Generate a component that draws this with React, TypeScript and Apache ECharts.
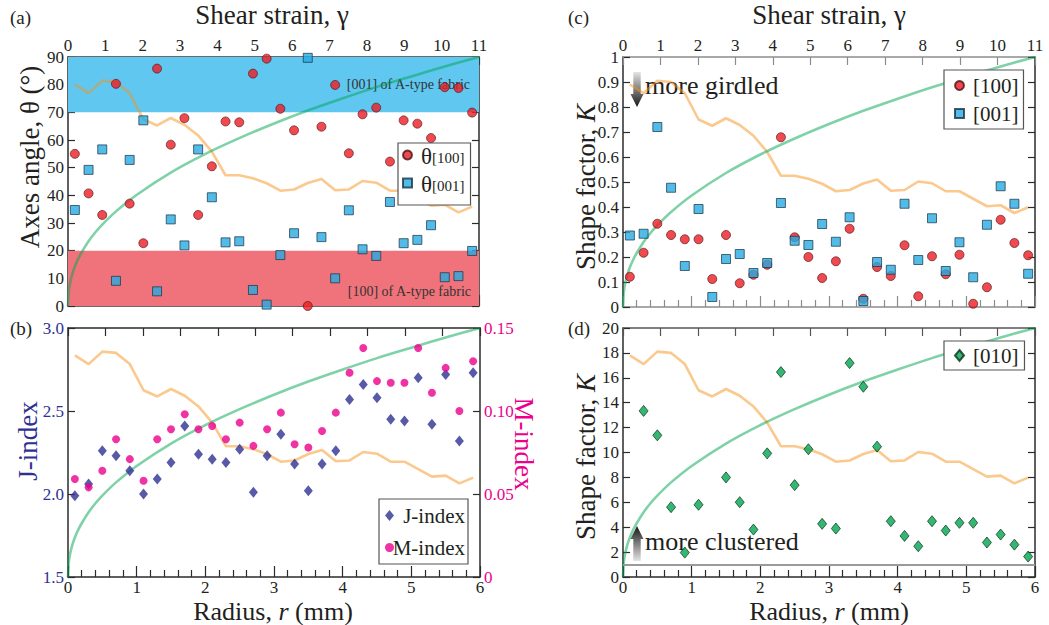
import React, { useEffect, useRef } from 'react';
import * as echarts from 'echarts';

const SERIF = "'Liberation Serif', serif";
const INK = '#231F20';
const NAVY = '#2E3192';
const PINK = '#EC008C';

// Sample positions along the radius (mm)
const radius = [0.1, 0.3, 0.5, 0.7, 0.9, 1.1, 1.3, 1.5, 1.7, 1.9, 2.1, 2.3, 2.5, 2.7, 2.9,
  3.1, 3.3, 3.5, 3.7, 3.9, 4.1, 4.3, 4.5, 4.7, 4.9, 5.1, 5.3, 5.5, 5.7, 5.9];

// (a) axes angles (degrees)
const theta100 = [55.0, 40.7, 32.9, 80.3, 37.0, 22.7, 85.8, 58.3, 67.9, 32.9, 50.5, 66.7, 66.4, 84.0, 89.4,
  71.3, 63.5, 0.0, 64.8, 79.9, 55.2, 69.3, 71.7, 52.2, 67.1, 65.9, 60.7, 79.1, 78.8, 69.9];
const theta001 = [34.7, 49.2, 56.6, 9.1, 52.8, 67.1, 5.3, 31.3, 21.9, 56.6, 39.3, 23.0, 23.4, 5.8, 0.5,
  18.4, 26.3, 89.7, 24.9, 10.0, 34.6, 20.5, 18.1, 37.6, 22.7, 23.9, 29.2, 10.4, 10.8, 19.9];

// (b) fabric strength indices
const jIndex = [1.99, 2.06, 2.26, 2.23, 2.14, 2.00, 2.09, 2.19, 2.41, 2.24, 2.21, 2.19, 2.27, 2.01, 2.23,
  2.36, 2.18, 2.02, 2.18, 2.26, 2.57, 2.66, 2.58, 2.45, 2.44, 2.70, 2.42, 2.72, 2.32, 2.73];
const mIndex = [0.059, 0.054, 0.064, 0.083, 0.071, 0.058, 0.083, 0.089, 0.098, 0.089, 0.091, 0.083, 0.093, 0.079, 0.089,
  0.099, 0.080, 0.078, 0.088, 0.099, 0.123, 0.138, 0.118, 0.117, 0.117, 0.138, 0.111, 0.126, 0.100, 0.130];

// (c) shape factors of [100] and [001]
const k100 = [0.121, 0.217, 0.333, 0.288, 0.271, 0.271, 0.112, 0.288, 0.095, 0.129, 0.169, 0.679, 0.279, 0.200, 0.116,
  0.183, 0.313, 0.033, 0.160, 0.124, 0.247, 0.043, 0.203, 0.131, 0.209, 0.013, 0.079, 0.349, 0.256, 0.207];
const k001 = [0.286, 0.293, 0.720, 0.477, 0.164, 0.392, 0.040, 0.192, 0.212, 0.136, 0.176, 0.416, 0.265, 0.248, 0.332,
  0.261, 0.359, 0.024, 0.180, 0.149, 0.413, 0.188, 0.355, 0.144, 0.259, 0.119, 0.329, 0.483, 0.413, 0.133];

// (d) shape factor of [010]; null where no value was obtained
const k010 = [null, 13.34, 11.38, 5.61, 1.96, 5.80, null, 8.00, 6.01, 3.81, 9.93, 16.46, 7.38, 10.26, 4.27,
  3.89, 17.18, 15.28, 10.47, 4.48, 3.30, 2.47, 4.48, 3.73, 4.35, 4.35, 2.77, 3.41, 2.60, 1.64];

// Background profile shared by all panels (fraction of each panel's height)
const profile = [0.89, 0.855, 0.905, 0.90, 0.855, 0.75, 0.725, 0.755, 0.728, 0.685, 0.62, 0.525, 0.525, 0.513, 0.493,
  0.463, 0.468, 0.494, 0.51, 0.465, 0.468, 0.502, 0.495, 0.463, 0.463, 0.433, 0.403, 0.407, 0.376, 0.399];

// Shear strain along the radius (fraction of the 0-11 strain range)
const strainR = [0, 0.01, 0.03, 0.06, 0.1, 0.15, 0.2, 0.3, 0.4, 0.5, 0.7, 1.0, 1.5, 2.0, 2.5, 3.0, 3.5, 4.0, 4.5, 5.0, 5.5, 6.0];
const strainFrac = [0, 0.056, 0.092, 0.126, 0.159, 0.19, 0.216, 0.26, 0.296, 0.327, 0.38, 0.446, 0.536, 0.61, 0.674,
  0.732, 0.785, 0.833, 0.879, 0.921, 0.962, 1.0];

const gammaTicks = [0, 1, 2, 3, 4, 5, 6, 7, 8, 9, 10, 11];

const GRIDS = [
  { left: 68, top: 57, width: 411, height: 249 },
  { left: 68, top: 328, width: 412, height: 249 },
  { left: 623, top: 57, width: 412, height: 250 },
  { left: 623, top: 328, width: 412, height: 249 },
];

const label = (show: boolean, color = INK, extra: any = {}) => ({
  show, color, fontFamily: SERIF, fontSize: 17, ...extra,
});

function rAxis(grid: number, showLabels: boolean, lineColor: string) {
  return {
    type: 'value', gridIndex: grid, position: 'bottom', min: 0, max: 6, interval: 1,
    axisLine: { show: true, onZero: false, lineStyle: { color: lineColor, width: 1.5 } },
    axisTick: { show: true, inside: true, length: 11, lineStyle: { color: lineColor, width: 1.2 } },
    minorTick: { show: true, splitNumber: 5, length: 7, lineStyle: { color: lineColor, width: 1.2 } },
    axisLabel: label(showLabels, INK, { margin: 2 }),
    splitLine: { show: false }, minorSplitLine: { show: false },
  };
}

function gammaAxis(grid: number, showLabels: boolean, lineColor: string) {
  return {
    type: 'value', gridIndex: grid, position: 'top', min: gammaTicks[0], max: gammaTicks[gammaTicks.length - 1], interval: 1,
    axisLine: { show: true, onZero: false, lineStyle: { color: lineColor, width: 1.5 } },
    axisTick: { show: true, inside: true, length: 8, lineStyle: { color: lineColor, width: 1.2 } },
    axisLabel: label(showLabels, INK, { margin: 3 }),
    splitLine: { show: false },
  };
}

function valueAxis(grid: number, position: string, min: number, max: number, interval: number,
  showLabels: boolean, formatter?: (v: number) => string, color = INK) {
  return {
    type: 'value', gridIndex: grid, position, min, max, interval,
    axisLine: { show: true, onZero: false, lineStyle: { color: '#2b2b2b', width: 1.5 } },
    axisTick: { show: true, inside: true, length: 7, lineStyle: { color: '#2b2b2b', width: 1.2 } },
    axisLabel: label(showLabels, color, { margin: 4, formatter }),
    splitLine: { show: false },
  };
}

const normAxis = (grid: number) => ({ type: 'value', gridIndex: grid, show: false, min: 0, max: 1 });

const pairs = (ys: (number | null)[]) =>
  radius.map((r, i) => [r, ys[i]]).filter((p) => p[1] !== null);

function overlayLines(xAxisIndex: number, yAxisIndex: number) {
  return [
    {
      type: 'line', name: 'profile', xAxisIndex, yAxisIndex, z: 2, silent: true, symbol: 'none',
      data: pairs(profile),
      lineStyle: { color: '#F7941D', opacity: 0.5, width: 2.6 },
    },
    {
      type: 'line', name: 'strain', xAxisIndex, yAxisIndex, z: 2, silent: true, symbol: 'none', smooth: 0.3,
      data: strainR.map((r, i) => [r, strainFrac[i]]),
      lineStyle: { color: '#00A651', opacity: 0.5, width: 2.6 },
    },
  ];
}

const redDot = { color: '#ED1C24', borderColor: '#4a1414', borderWidth: 0.8 };
const blueSq = { color: '#27AAE1', borderColor: '#163246', borderWidth: 0.9 };
const greenDia = { color: '#00A651', borderColor: '#0d2f1b', borderWidth: 0.9 };

function buildOption(): any {
  const bandLabel = { show: true, color: '#333', fontFamily: SERIF, fontSize: 14 };
  const series: any[] = [
    // (a)
    {
      type: 'scatter', name: 'θ[100]', xAxisIndex: 0, yAxisIndex: 0, z: 3,
      symbol: 'circle', symbolSize: 9, itemStyle: redDot, data: pairs(theta100),
      markArea: {
        silent: true,
        data: [
          [{ name: '[001] of A-type fabric', yAxis: 70, itemStyle: { color: '#5FC7F0' },
             label: { ...bandLabel, position: 'insideRight', distance: 9 } }, { yAxis: 90 }],
          [{ name: '[100] of A-type fabric', yAxis: 0, itemStyle: { color: '#F0737B' },
             label: { ...bandLabel, position: 'insideBottomRight', distance: 8 } }, { yAxis: 20 }],
        ],
      },
    },
    {
      type: 'scatter', name: 'θ[001]', xAxisIndex: 0, yAxisIndex: 0, z: 3,
      symbol: 'rect', symbolSize: 9, itemStyle: blueSq, data: pairs(theta001),
    },
    ...overlayLines(0, 2),
    // (b)
    {
      type: 'scatter', name: 'J-index', xAxisIndex: 2, yAxisIndex: 3, z: 3,
      symbol: 'diamond', symbolSize: [9, 11], itemStyle: { color: NAVY }, data: pairs(jIndex),
    },
    {
      type: 'scatter', name: 'M-index', xAxisIndex: 2, yAxisIndex: 4, z: 3,
      symbol: 'circle', symbolSize: 8, itemStyle: { color: PINK }, data: pairs(mIndex),
    },
    ...overlayLines(2, 5),
    // (c)
    {
      type: 'scatter', name: '[100]', xAxisIndex: 4, yAxisIndex: 6, z: 3,
      symbol: 'circle', symbolSize: 9, itemStyle: redDot, data: pairs(k100),
    },
    {
      type: 'scatter', name: '[001]', xAxisIndex: 4, yAxisIndex: 6, z: 3,
      symbol: 'rect', symbolSize: 9, itemStyle: blueSq, data: pairs(k001),
    },
    ...overlayLines(4, 8),
    // (d)
    {
      type: 'scatter', name: '[010]', xAxisIndex: 6, yAxisIndex: 9, z: 3,
      symbol: 'diamond', symbolSize: [9, 11], itemStyle: greenDia, data: pairs(k010),
      markLine: {
        silent: true, symbol: 'none', label: { show: false },
        lineStyle: { color: '#9a9a9a', width: 2, type: 'solid' },
        data: [{ yAxis: 1 }],
      },
    },
    ...overlayLines(6, 11),
  ];

  const legendBase = {
    orient: 'vertical', borderColor: '#555', borderWidth: 1.2, backgroundColor: '#fff',
    selectedMode: false, itemWidth: 9, itemHeight: 9,
  };

  const legend = [
    {
      ...legendBase, data: ['θ[100]', 'θ[001]'], left: 398, top: 143, padding: [2, 6, 3, 4], itemGap: -1,
      formatter: (name: string) => `{t|θ}{s|${name.slice(1)}}`,
      textStyle: {
        color: INK, fontFamily: SERIF, padding: [0, 0, 0, 4],
        rich: {
          t: { fontSize: 23, fontFamily: SERIF, color: INK, lineHeight: 20, verticalAlign: 'top', padding: [0, 0, 6, 0] },
          s: { fontSize: 15, fontFamily: SERIF, color: INK, lineHeight: 14, verticalAlign: 'bottom' },
        },
      },
    },
    {
      ...legendBase, data: ['J-index', 'M-index'], left: 379, top: 499, padding: [6, 3, 6, 6], itemGap: 11,
      itemHeight: 11,
      formatter: (name: string) => `{a|${name}}`,
      textStyle: {
        color: INK, fontFamily: SERIF, fontSize: 21,
        rich: { a: { fontSize: 21, fontFamily: SERIF, color: INK, width: 66, align: 'right' } },
      },
    },
    {
      ...legendBase, data: ['[100]', '[001]'], left: 944, top: 70, padding: [5, 5, 5, 10], itemGap: 7,
      textStyle: { color: INK, fontFamily: SERIF, fontSize: 21, padding: [0, 0, 0, 4] },
    },
    {
      ...legendBase, data: ['[010]'], left: 944, top: 341, padding: [4, 6, 4, 10], itemHeight: 11,
      textStyle: { color: INK, fontFamily: SERIF, fontSize: 21, padding: [0, 0, 0, 4] },
    },
  ];

  const title = (text: string, x: number, y: number, rotation = 0, fill = INK, size = 27) => ({
    type: 'text', x, y, rotation, silent: true,
    style: {
      text, fill, fontFamily: SERIF, fontSize: size, align: 'center', verticalAlign: 'middle',
      rich: { i: { fontStyle: 'italic', fontFamily: SERIF, fontSize: size, fill } },
    },
  });
  const tag = (text: string, x: number, y: number) => ({
    type: 'text', x, y, silent: true,
    style: { text, fill: INK, fontFamily: SERIF, fontSize: 19, align: 'left', verticalAlign: 'middle' },
  });
  const grad = (topColor: string, bottomColor: string) => new echarts.graphic.LinearGradient(0, 0, 0, 1, [
    { offset: 0, color: topColor }, { offset: 1, color: bottomColor },
  ]);

  const graphic = [
    tag('(a)', 10, 17), tag('(b)', 10, 328), tag('(c)', 568, 17), tag('(d)', 568, 328),
    title('Shear strain, γ', 272, 15), title('Shear strain, γ', 829, 15),
    title('Radius, {i|r} (mm)', 273, 611, 0, INK, 26), title('Radius, {i|r} (mm)', 829, 611, 0, INK, 26),
    title('Axes angle, θ (°)', 30, 157, Math.PI / 2),
    title('J-index', 28, 441, Math.PI / 2, NAVY),
    title('M-index', 524, 444, -Math.PI / 2, PINK),
    title('Shape factor, {i|K}', 586, 187, Math.PI / 2),
    title('Shape factor, {i|K}', 586, 457, Math.PI / 2),
    {
      type: 'polygon', silent: true,
      shape: { points: [[633.3, 72], [640.7, 72], [640.7, 94], [643.5, 94], [637, 107], [630.5, 94], [633.3, 94]] },
      style: { fill: grad('#e4e4e4', '#161616') },
    },
    {
      type: 'text', x: 645, y: 85, silent: true,
      style: { text: 'more girdled', fill: INK, fontFamily: SERIF, fontSize: 26, align: 'left', verticalAlign: 'middle' },
    },
    {
      type: 'polygon', silent: true,
      shape: { points: [[637, 526], [643.5, 539], [640.7, 539], [640.7, 561], [633.3, 561], [633.3, 539], [630.5, 539]] },
      style: { fill: grad('#161616', '#e4e4e4') },
    },
    {
      type: 'text', x: 645, y: 541, silent: true,
      style: { text: 'more clustered', fill: INK, fontFamily: SERIF, fontSize: 26, align: 'left', verticalAlign: 'middle' },
    },
  ];

  const fmt1 = (v: number) => v.toFixed(1);
  const fmtM = (v: number) => (v === 0 ? '0' : v.toFixed(2));

  return {
    animation: false,
    backgroundColor: '#fff',
    textStyle: { fontFamily: SERIF },
    grid: GRIDS,
    xAxis: [
      rAxis(0, false, '#3a3a3a'), gammaAxis(0, true, '#3a3a3a'),
      rAxis(1, true, '#2b2b2b'), gammaAxis(1, false, '#2b2b2b'),
      rAxis(2, false, '#8c8c8c'), gammaAxis(2, true, '#8c8c8c'),
      rAxis(3, true, '#2b2b2b'), gammaAxis(3, false, '#555'),
    ],
    yAxis: [
      valueAxis(0, 'left', 0, 90, 10, true), valueAxis(0, 'right', 0, 90, 10, false), normAxis(0),
      valueAxis(1, 'left', 1.5, 3.0, 0.5, true, fmt1, NAVY), valueAxis(1, 'right', 0, 0.15, 0.05, true, fmtM, PINK), normAxis(1),
      valueAxis(2, 'left', 0, 1, 0.1, true), valueAxis(2, 'right', 0, 1, 0.1, false), normAxis(2),
      valueAxis(3, 'left', 0, 20, 2, true), valueAxis(3, 'right', 0, 20, 2, false), normAxis(3),
    ],
    legend,
    series,
    graphic,
  };
}

export default function App() {
  const ref = useRef<HTMLDivElement>(null);
  useEffect(() => {
    if (!ref.current) return;
    const chart = echarts.init(ref.current, null, { renderer: 'svg' });
    chart.setOption(buildOption());
    return () => chart.dispose();
  }, []);
  return (
    <div
      ref={ref}
      style={{ position: 'fixed', left: 0, top: 0, width: 1049, height: 625, background: '#fff' }}
    />
  );
}
